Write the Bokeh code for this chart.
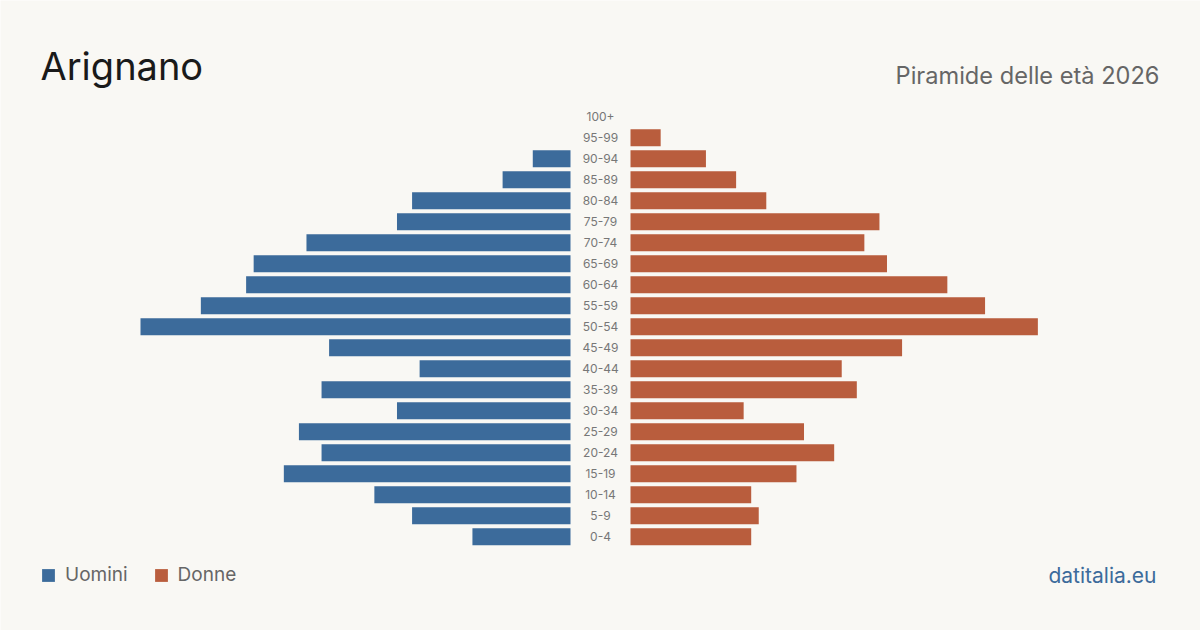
from bokeh.plotting import figure
from bokeh.models import Range1d, Label, Legend, LegendItem, ColumnDataSource
from bokeh.core.properties import value
from bokeh.embed import file_html
from bokeh.resources import INLINE

# Age groups, youngest first
age_groups = ["0-4", "5-9", "10-14", "15-19", "20-24", "25-29", "30-34", "35-39",
              "40-44", "45-49", "50-54", "55-59", "60-64", "65-69", "70-74",
              "75-79", "80-84", "85-89", "90-94", "95-99", "100+"]
uomini = [13, 21, 26, 38, 33, 36, 23, 33, 20, 32, 57, 49, 43, 42, 35, 23, 21, 9, 5, 0, 0]
donne = [16, 17, 16, 22, 27, 23, 15, 30, 28, 36, 54, 47, 42, 34, 31, 33, 18, 14, 10, 4, 0]

title_text = "Arignano"
subtitle_text = "Piramide delle età 2026"
source_text = "datitalia.eu"

W, H = 1200, 630
BG = "#f9f8f4"
BLUE = "#3c6b9b"
RED = "#b95d3d"
FONT = "Inter"

# Horizontal layout: longest bar spans 430 px, 30 px half-gap for the age labels
px_per_unit = 430 / max(max(uomini), max(donne))
half_gap = 30 / px_per_unit
half_width = (W / 2) / px_per_unit

# Vertical layout: 21 px per row, youngest row centred 536 px from the top
row_px = 21
first_row_from_top = 536.3
y_bottom = -(H - first_row_from_top) / row_px
y_top = first_row_from_top / row_px

idx = list(range(len(age_groups)))
src = ColumnDataSource(dict(
    y=idx,
    label=age_groups,
    m_left=[-half_gap - v for v in uomini],
    m_right=[-half_gap] * len(idx),
    f_left=[half_gap] * len(idx),
    f_right=[half_gap + v for v in donne],
    x0=[0] * len(idx),
))

p = figure(width=W, height=H, output_backend="svg", toolbar_location=None,
           x_range=Range1d(-half_width, half_width), y_range=Range1d(y_bottom, y_top),
           x_axis_location=None, y_axis_location=None, min_border=0,
           background_fill_color=BG, border_fill_color=BG, outline_line_color=None)
p.grid.visible = False

bar_h = 17 / row_px
male_r = p.hbar(y="y", left="m_left", right="m_right", height=bar_h, source=src,
                fill_color=BLUE, line_color=None)
female_r = p.hbar(y="y", left="f_left", right="f_right", height=bar_h, source=src,
                  fill_color=RED, line_color=None)

p.text(x="x0", y="y", text="label", source=src, text_align="center",
       text_baseline="middle", text_font=value(FONT), text_font_size="12px",
       text_color="#777777")

p.add_layout(Label(x=40, y=565, x_units="screen", y_units="screen", text=title_text,
                   text_font=FONT, text_font_size="38px", text_color="#1a1a1a",
                   text_baseline="alphabetic"))
p.add_layout(Label(x=1159, y=555, x_units="screen", y_units="screen", text=subtitle_text,
                   text_font=FONT, text_font_size="23.6px", text_color="#666666",
                   text_align="right", text_baseline="alphabetic"))
p.add_layout(Label(x=1156, y=55, x_units="screen", y_units="screen", text=source_text,
                   text_font=FONT, text_font_size="21px", text_color="#3c6b9b",
                   text_align="right", text_baseline="alphabetic"))

legend = Legend(items=[LegendItem(label="Uomini", renderers=[male_r]),
                       LegendItem(label="Donne", renderers=[female_r])],
                orientation="horizontal", location=(40, 44),
                glyph_width=16, glyph_height=16, label_height=16, label_standoff=9,
                spacing=25, padding=0, margin=0, border_line_alpha=0,
                background_fill_alpha=0, label_text_font=FONT,
                label_text_font_size="19px", label_text_color="#666666")
p.add_layout(legend)

open("out.html", "w").write(file_html(p, INLINE))
